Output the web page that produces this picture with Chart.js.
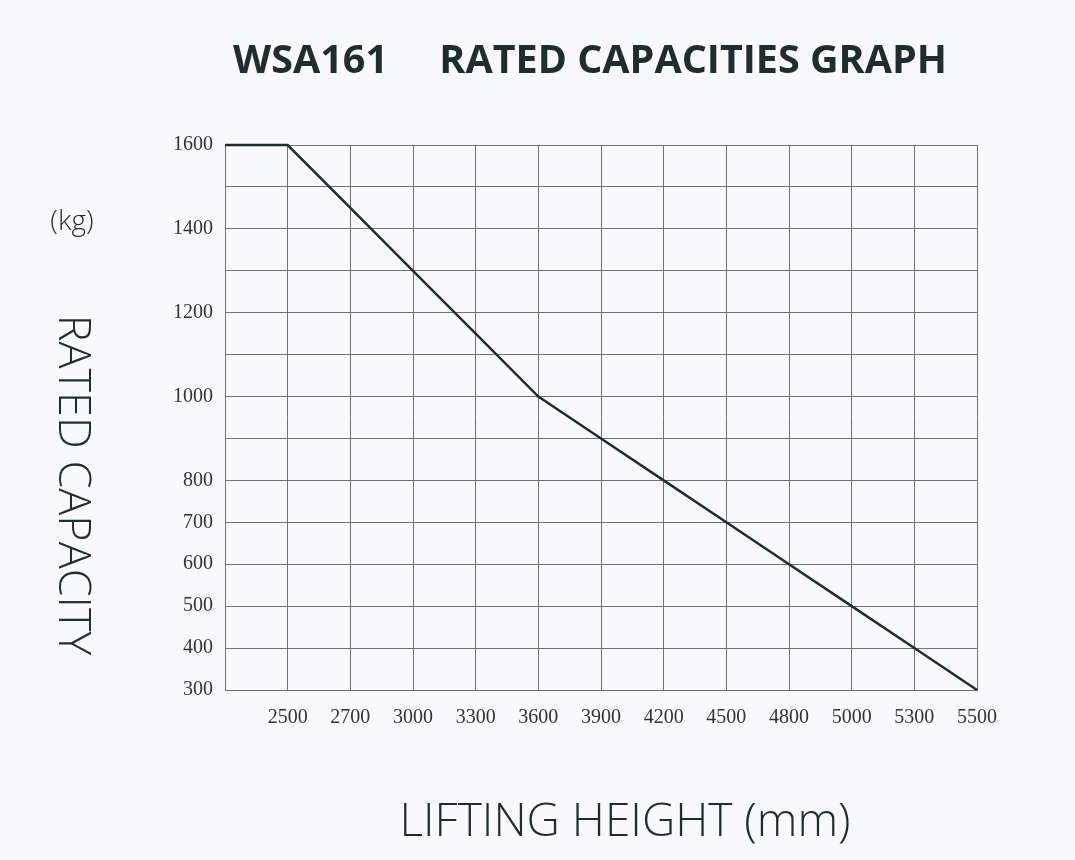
<!DOCTYPE html>
<html>
<head>
<meta charset="utf-8">
<script src="https://cdn.jsdelivr.net/npm/chart.js@4/dist/chart.umd.min.js"></script>
<style>
  html, body { margin: 0; padding: 0; background: #f8f9fb; }
  #wrap { width: 1075px; height: 860px; position: relative; }
</style>
</head>
<body>
<div id="wrap"><canvas id="c" width="1075" height="860"></canvas></div>
<script>
// ---- data ----
const liftingHeights = ['', '2500', '2700', '3000', '3300', '3600', '3900', '4200', '4500', '4800', '5000', '5300', '5500'];
const ratedCapacity = [1600, 1600, 1450, 1300, 1150, 1000, 900, 800, 700, 600, 500, 400, 300];
const yTickLabels = [300, 400, 500, 600, 700, 800, 1000, 1200, 1400, 1600];
const titleText = 'WSA161     RATED CAPACITIES GRAPH';
const xTitle = 'LIFTING HEIGHT (mm)';
const yTitle = 'RATED CAPACITY';
const yUnit = '(kg)';

const ink = '#1f2d2f';
const gridCol = '#6e7274';

const textPlugin = {
  id: 'texts',
  afterDraw(chart) {
    const ctx = chart.ctx;
    ctx.save();
    ctx.fillStyle = ink;
    ctx.textBaseline = 'middle';
    ctx.textAlign = 'center';
    // main title
    ctx.font = 'bold 39.5px "Open Sans"';
    ctx.fillText(titleText, 590, 62);
    // x title
    ctx.font = '300 46px "Open Sans"';
    ctx.fillText(xTitle, 625, 823);
    // unit
    ctx.font = '300 28px "Open Sans"';
    ctx.fillText(yUnit, 72, 222);
    // y title rotated clockwise
    ctx.translate(72, 485);
    ctx.rotate(Math.PI / 2);
    ctx.font = '300 45px "Open Sans"';
    ctx.fillText(yTitle, 0, 0);
    ctx.restore();
  }
};

new Chart(document.getElementById('c'), {
  type: 'line',
  data: {
    labels: liftingHeights,
    datasets: [{
      data: ratedCapacity,
      borderColor: ink,
      borderWidth: 2.5,
      pointRadius: 0,
      tension: 0,
      fill: false,
      clip: 6
    }]
  },
  options: {
    responsive: false,
    animation: false,
    layout: { padding: { left: 0, right: 98, top: 145, bottom: 110 } },
    plugins: { legend: { display: false }, title: { display: false }, tooltip: { enabled: false } },
    scales: {
      x: {
        type: 'category',
        offset: false,
        grid: { color: gridCol, lineWidth: 1, drawTicks: false },
        border: { color: gridCol, width: 1 },
        ticks: {
          color: '#2e3436',
          font: { family: '"Liberation Serif"', size: 20 },
          padding: 16,
          maxRotation: 0,
          autoSkip: false
        },
        afterFit(s) { s.height = 60; }
      },
      y: {
        min: 300,
        max: 1600,
        grid: { color: gridCol, lineWidth: 1, drawTicks: false },
        border: { color: gridCol, width: 1 },
        ticks: {
          stepSize: 100,
          color: '#2e3436',
          font: { family: '"Liberation Serif"', size: 20 },
          padding: 12,
          autoSkip: false,
          callback: (v) => yTickLabels.includes(v) ? String(v) : ''
        },
        afterFit(s) { s.width = 225; }
      }
    }
  },
  plugins: [textPlugin]
});
</script>
</body>
</html>
